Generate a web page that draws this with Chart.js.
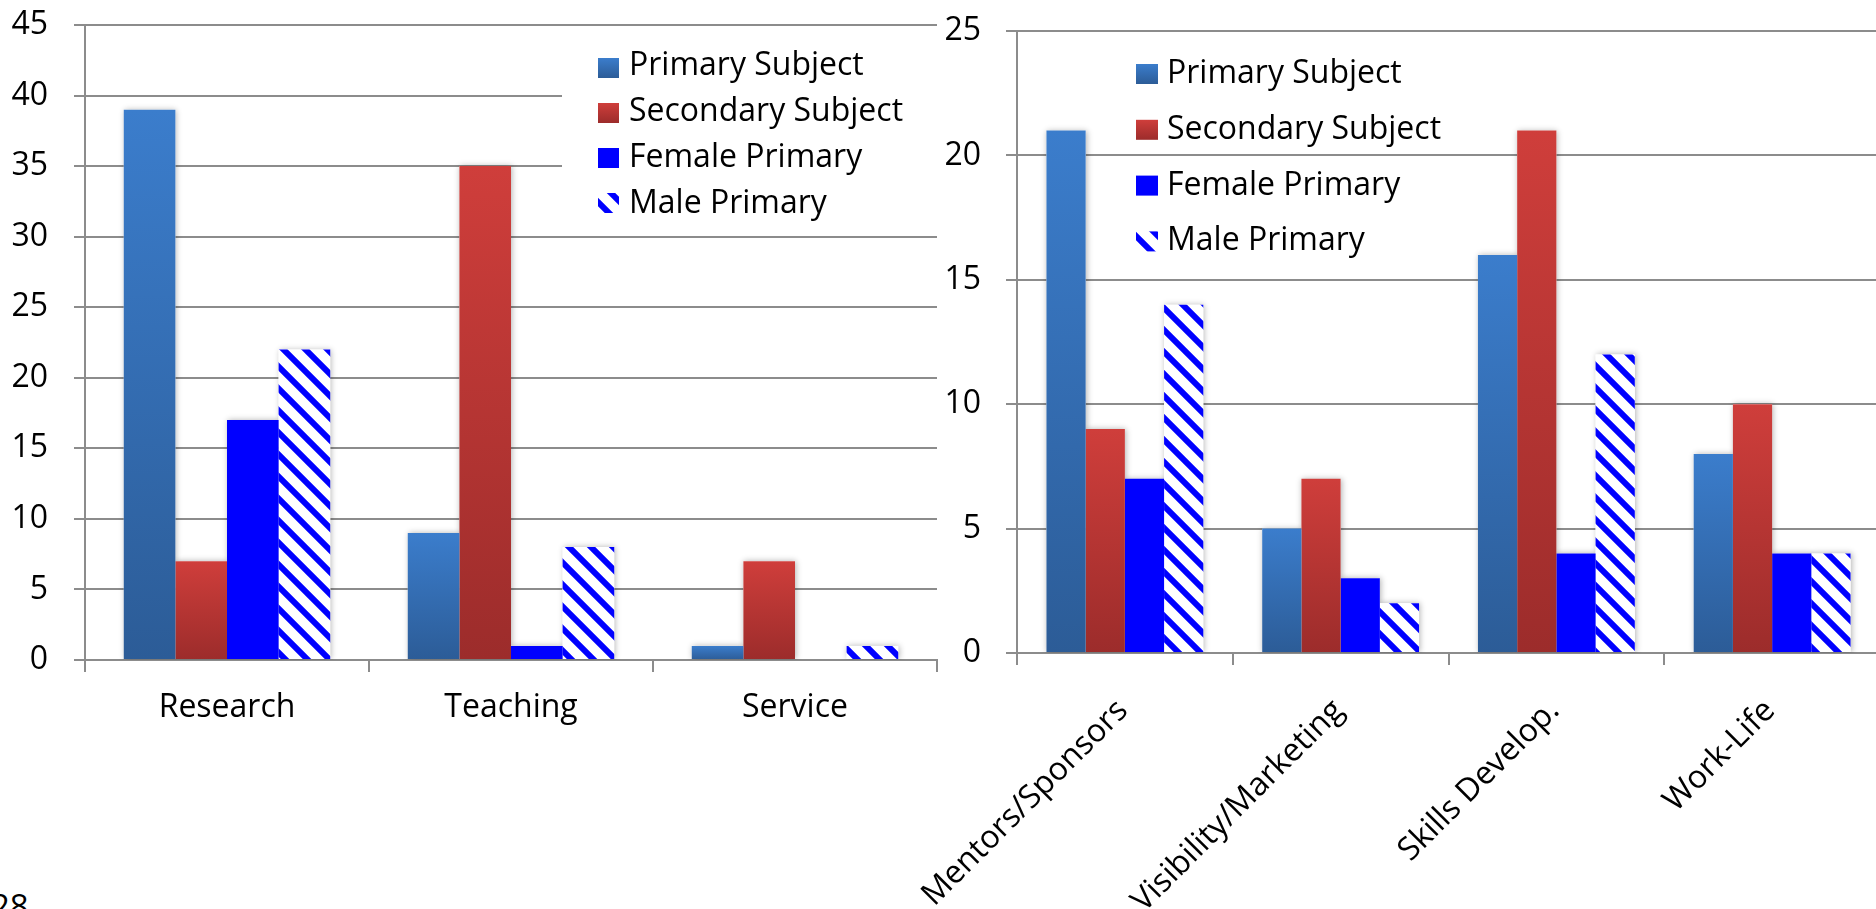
<!DOCTYPE html>
<html>
<head>
<meta charset="utf-8">
<script src="https://cdn.jsdelivr.net/npm/chart.js@4/dist/chart.umd.min.js"></script>
<style>
html,body{margin:0;padding:0;background:#fff;overflow:hidden;width:1876px;height:909px;}
#wrap{position:relative;width:1876px;height:909px;overflow:hidden;background:#fff;}
#c1{position:absolute;left:0;top:0;}
#c2{position:absolute;left:900px;top:0;}
#pg{position:absolute;left:-9px;top:889px;font-family:'Open Sans';font-size:33px;line-height:33px;color:#000;}
</style>
</head>
<body>
<div id="wrap">
  <div id="pg">28</div>
  <canvas id="c1" width="940" height="909"></canvas>
  <canvas id="c2" width="1000" height="909"></canvas>
</div>
<script>
// ---------- DATA ----------
const seriesNames = ['Primary Subject', 'Secondary Subject', 'Female Primary', 'Male Primary'];

const leftCategories = ['Research', 'Teaching', 'Service'];
const leftPrimary    = [39, 9, 1];
const leftSecondary  = [7, 35, 7];
const leftFemale     = [17, 1, 0];
const leftMale       = [22, 8, 1];
const leftYTicks     = [0, 5, 10, 15, 20, 25, 30, 35, 40, 45];

const rightCategories = ['Mentors/Sponsors', 'Visibility/Marketing', 'Skills Develop.', 'Work-Life'];
const rightPrimary    = [21, 5, 16, 8];
const rightSecondary  = [9, 7, 21, 10];
const rightFemale     = [7, 3, 4, 4];
const rightMale       = [14, 2, 12, 4];
const rightYTicks     = [0, 5, 10, 15, 20, 25];

// ---------- STYLE ----------
const FONT = "'Open Sans'";
const GRID = '#8c8c8c';
const BLUE_TOP = '#3b7dcc', BLUE_BOT = '#2c5c97';
const RED_TOP = '#cf3e3b', RED_BOT = '#9c2c2b';
const PURE_BLUE = '#0000ff';

function makeHatch() {
  const s = 22;
  const p = document.createElement('canvas');
  p.width = s; p.height = s;
  const c = p.getContext('2d');
  c.fillStyle = '#ffffff';
  c.fillRect(0, 0, s, s);
  c.strokeStyle = PURE_BLUE;
  c.lineWidth = 6;
  c.beginPath();
  for (let k = -1; k <= 1; k++) {
    c.moveTo(k * s - 3, -3);
    c.lineTo(k * s + s + 3, s + 3);
  }
  c.stroke();
  return p;
}
const hatchCanvas = makeHatch();

function gradFill(top, bot) {
  return (ctx) => {
    const chart = ctx.chart;
    if (!chart.chartArea || ctx.type !== 'data' || !ctx.parsed) return top;
    const ys = chart.scales.y;
    const yTop = ys.getPixelForValue(ctx.parsed.y);
    const yBase = ys.getPixelForValue(0);
    if (yBase - yTop < 1) return top;
    const g = chart.ctx.createLinearGradient(0, yTop, 0, yBase);
    g.addColorStop(0, top);
    g.addColorStop(1, bot);
    return g;
  };
}
function hatchFill(ctx) {
  return ctx.chart.ctx.createPattern(hatchCanvas, 'repeat');
}

const shadowPlugin = {
  id: 'barShadow',
  beforeDatasetsDraw(chart) {
    const c = chart.ctx;
    const a = chart.chartArea;
    c.save();
    c.beginPath();
    c.rect(a.left, 0, a.right - a.left, a.bottom);
    c.clip();
    c.shadowColor = 'rgba(0,0,0,0.30)';
    c.shadowBlur = 6;
    c.shadowOffsetX = 1;
    c.fillStyle = '#ffffff';
    chart.data.datasets.forEach((ds, i) => {
      chart.getDatasetMeta(i).data.forEach(el => {
        const p = el.getProps(['x', 'y', 'base', 'width'], true);
        const h = p.base - p.y;
        if (h <= 0.5) return;
        c.fillRect(p.x - p.width / 2, p.y, p.width, h);
      });
    });
    c.restore();
  }
};

const boxLegend = {
  id: 'boxLegend',
  afterDraw(chart, args, o) {
    const c = chart.ctx;
    c.save();
    if (o.bg) {
      c.fillStyle = '#ffffff';
      c.fillRect(o.bg[0], o.bg[1], o.bg[2], o.bg[3]);
    }
    c.font = '32px ' + FONT;
    c.textBaseline = 'alphabetic';
    c.textAlign = 'left';
    chart.data.datasets.forEach((ds, i) => {
      const cy = o.y0 + i * o.step;
      const bx = o.boxX, by = cy - o.boxH / 2;
      let fill;
      if (ds.legendKind === 'grad') {
        const g = c.createLinearGradient(0, by, 0, by + o.boxH);
        g.addColorStop(0, ds.legendTop);
        g.addColorStop(1, ds.legendBot);
        fill = g;
      } else if (ds.legendKind === 'hatch') {
        fill = c.createPattern(hatchCanvas, 'repeat');
      } else {
        fill = ds.legendTop;
      }
      c.fillStyle = fill;
      c.fillRect(bx, by, o.boxW, o.boxH);
      c.fillStyle = '#000000';
      c.fillText(ds.label, o.textX, o.textY0 + i * o.textStep);
    });
    c.restore();
  }
};

function buildDatasets(p, s, f, m) {
  return [
    { label: seriesNames[0], data: p, backgroundColor: gradFill(BLUE_TOP, BLUE_BOT), legendKind: 'grad', legendTop: BLUE_TOP, legendBot: BLUE_BOT },
    { label: seriesNames[1], data: s, backgroundColor: gradFill(RED_TOP, RED_BOT), legendKind: 'grad', legendTop: RED_TOP, legendBot: RED_BOT },
    { label: seriesNames[2], data: f, backgroundColor: PURE_BLUE, legendKind: 'solid', legendTop: PURE_BLUE },
    { label: seriesNames[3], data: m, backgroundColor: hatchFill, legendKind: 'hatch' }
  ];
}

function makeChart(canvas, cats, datasets, yTicks, geo, legendOpts) {
  return new Chart(canvas, {
    type: 'bar',
    data: { labels: cats, datasets: datasets },
    options: {
      responsive: false,
      animation: false,
      devicePixelRatio: 1,
      layout: { padding: { top: geo.top, right: geo.right, left: 0, bottom: 0 } },
      datasets: { bar: { categoryPercentage: 0.727, barPercentage: 1.0, borderWidth: 0 } },
      plugins: {
        legend: { display: false },
        tooltip: { enabled: false },
        boxLegend: legendOpts
      },
      scales: {
        x: {
          offset: true,
          grid: { display: true, drawOnChartArea: false, drawTicks: true, tickLength: 12, color: GRID, lineWidth: 2, offset: true },
          border: { display: true, color: GRID, width: 2 },
          ticks: {
            color: '#000', font: { family: FONT, size: 32 }, padding: geo.xPad,
            minRotation: geo.rot, maxRotation: geo.rot, labelOffset: geo.labelOffset, autoSkip: false
          },
          afterFit(s) { s.height = geo.xHeight; s.paddingLeft = 0; s.paddingRight = 0; }
        },
        y: {
          min: yTicks[0], max: yTicks[yTicks.length - 1],
          grid: { color: GRID, lineWidth: 2, tickLength: 11, drawTicks: true },
          border: { display: true, color: GRID, width: 2 },
          ticks: { color: '#000', font: { family: FONT, size: 32 }, padding: geo.yPad },
          afterBuildTicks(s) { s.ticks = yTicks.map(v => ({ value: v })); },
          afterFit(s) { s.width = geo.yWidth; s.paddingTop = 0; s.paddingBottom = 0; }
        }
      }
    },
    plugins: [shadowPlugin, boxLegend]
  });
}

makeChart(
  document.getElementById('c1'),
  leftCategories,
  buildDatasets(leftPrimary, leftSecondary, leftFemale, leftMale),
  leftYTicks,
  { top: 25, right: 3, xHeight: 249, yWidth: 85, xPad: 17, yPad: 26, rot: 0, labelOffset: 0 },
  { bg: [562, 27, 378, 207], y0: 68, step: 45, boxX: 598, boxW: 21, boxH: 20, textX: 629, textY0: 75, textStep: 46 }
);

makeChart(
  document.getElementById('c2'),
  rightCategories,
  buildDatasets(rightPrimary, rightSecondary, rightFemale, rightMale),
  rightYTicks,
  { top: 31, right: 20, xHeight: 256, yWidth: 117, xPad: 27, yPad: 25, rot: 45, labelOffset: -2 },
  { bg: null, y0: 74, step: 55.8, boxX: 236, boxW: 22, boxH: 20, textX: 267, textY0: 83, textStep: 55.8 }
);
</script>
</body>
</html>
